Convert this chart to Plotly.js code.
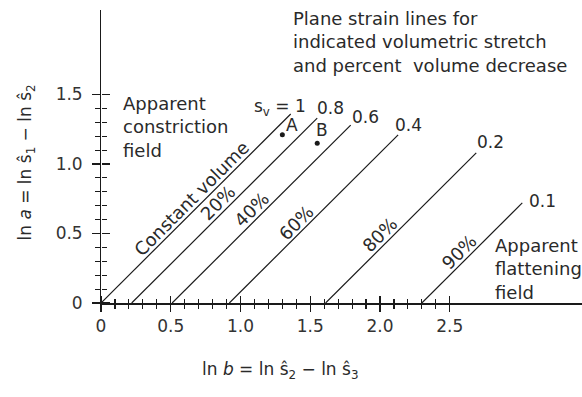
<!DOCTYPE html>
<html>
<head>
<meta charset="utf-8">
<script src="https://cdn.plot.ly/plotly-3.0.1.min.js"></script>
<style>html,body{margin:0;padding:0;background:#fff;}#chart{width:582px;height:397px;}</style>
</head>
<body>
<div id="chart"></div>
<script>
// ---- data ----
var svLabels   = ["s<sub>v</sub> = 1", "0.8", "0.6", "0.4", "0.2", "0.1"];
var pctLabels  = ["Constant volume", "20%", "40%", "60%", "80%", "90%"];
var lineStartX = [0, 0.22, 0.51, 0.92, 1.61, 2.30];
var lineEndX   = [1.36, 1.55, 1.79, 2.13, 2.69, 3.02];
var lineEndY   = [1.36, 1.33, 1.28, 1.21, 1.08, 0.72];
var pctAlongY  = [0.70, 0.67, 0.62, 0.53, 0.44, 0.32];
var pointNames = ["A", "B"];
var pointX     = [1.30, 1.55];
var pointY     = [1.21, 1.15];
var xTickVals  = [0, 0.5, 1.0, 1.5, 2.0, 2.5];
var xTickText  = ["0", "0.5", "1.0", "1.5", "2.0", "2.5"];
var yTickVals  = [0, 0.5, 1.0, 1.5];
var yTickText  = ["0\u00a0", "0.5\u00a0", "1.0\u00a0", "1.5\u00a0"];
var xMinorVals = [0.1,0.2,0.3,0.4,0.6,0.7,0.8,0.9,1.1,1.2,1.3,1.4,1.6,1.7,1.8,1.9,2.1,2.2,2.3,2.4];
var yMinorVals = [0.1,0.2,0.3,0.4,0.6,0.7,0.8,0.9,1.1,1.2,1.3,1.4];

// ---- styles ----
var FONT = "DejaVu Sans, Liberation Sans, Arial, sans-serif";
var INK = "#1a1a1a";
var TXT = "#2a2a2a";
var svShift = [[-11, 6], [13, 10], [15, 8], [10, 10], [14, 11], [20, 2]];
var ptShift = [[10, 10], [5, 13]];
var XR = [0, 3.448], YR = [0, 2.108];

var traces = [];
for (var i = 0; i < lineStartX.length; i++) {
  traces.push({
    type: "scatter", mode: "lines",
    x: [lineStartX[i], lineEndX[i]], y: [0, lineEndY[i]],
    line: {color: INK, width: 1.2}, hoverinfo: "skip", showlegend: false
  });
}
traces.push({
  type: "scatter", mode: "markers", x: pointX, y: pointY,
  marker: {color: INK, size: 5}, hoverinfo: "skip", showlegend: false
});
// invisible trace that keeps the second axis pair (inner half of the crossing ticks)
traces.push({type: "scatter", mode: "markers", x: [0], y: [0], xaxis: "x2", yaxis: "y2",
  marker: {opacity: 0}, hoverinfo: "skip", showlegend: false});

var ann = [];
for (var i = 0; i < svLabels.length; i++) {
  ann.push({x: lineEndX[i], y: lineEndY[i], xref: "x", yref: "y", text: svLabels[i],
    showarrow: false, xanchor: "center", yanchor: "middle",
    xshift: svShift[i][0], yshift: svShift[i][1],
    font: {family: FONT, size: 17, color: TXT}});
}
for (var i = 0; i < pctLabels.length; i++) {
  var t = pctAlongY[i] / lineEndY[i];
  var px = lineStartX[i] + (lineEndX[i] - lineStartX[i]) * t;
  ann.push({x: px, y: pctAlongY[i], xref: "x", yref: "y", text: pctLabels[i],
    showarrow: false, xanchor: "center", yanchor: "middle", textangle: -45,
    xshift: -7, yshift: 7,
    font: {family: FONT, size: 18, color: TXT}});
}
for (var i = 0; i < pointNames.length; i++) {
  ann.push({x: pointX[i], y: pointY[i], xref: "x", yref: "y", text: pointNames[i],
    showarrow: false, xanchor: "center", yanchor: "middle",
    xshift: ptShift[i][0], yshift: ptShift[i][1],
    font: {family: FONT, size: 17, color: TXT}});
}
ann.push({x: 0.143, y: 1.525, xref: "x", yref: "y", xanchor: "left", yanchor: "top", align: "left",
  text: "Apparent<br>constriction<br>field", showarrow: false,
  font: {family: FONT, size: 18, color: TXT}});
ann.push({x: 2.81, y: 0.504, xref: "x", yref: "y", xanchor: "left", yanchor: "top", align: "left",
  text: "Apparent<br>flattening<br>field", showarrow: false,
  font: {family: FONT, size: 18, color: TXT}});
ann.push({x: 0.395, y: 1.014, xref: "paper", yref: "paper", xanchor: "left", yanchor: "top", align: "left",
  text: "Plane strain lines for<br>indicated volumetric stretch<br>and percent  volume decrease",
  showarrow: false, font: {family: FONT, size: 18, color: TXT}});
// axis titles
ann.push({x: 0.372, y: -0.229, xref: "paper", yref: "paper", xanchor: "center", yanchor: "middle",
  text: "ln <i>b</i> = ln ŝ<sub>2</sub> − ln ŝ<sub>3</sub>", showarrow: false,
  font: {family: FONT, size: 17, color: TXT}});
ann.push({x: -0.155, y: 0.481, xref: "paper", yref: "paper", xanchor: "center", yanchor: "middle",
  textangle: -90, text: "ln <i>a</i> = ln ŝ<sub>1</sub> − ln ŝ<sub>2</sub>", showarrow: false,
  font: {family: FONT, size: 17, color: TXT}});

var axBase = {showgrid: false, zeroline: false, fixedrange: true};
var layout = {
  width: 582, height: 397,
  margin: {l: 101, r: 0, t: 10, b: 94, pad: 0},
  paper_bgcolor: "#fff", plot_bgcolor: "#fff",
  showlegend: false,
  xaxis: Object.assign({}, axBase, {
    range: XR, showline: true, linecolor: INK, linewidth: 1.5,
    tickmode: "array", tickvals: xTickVals, ticktext: xTickText,
    ticks: "outside", ticklen: 7, tickwidth: 1.3, tickcolor: INK,
    tickfont: {family: FONT, size: 17, color: "#333"},
    minor: {tickmode: "array", tickvals: xMinorVals, ticks: "outside", ticklen: 4, tickwidth: 1.1, tickcolor: INK, showgrid: false}
  }),
  yaxis: Object.assign({}, axBase, {
    range: YR, showline: true, linecolor: INK, linewidth: 1.5,
    tickmode: "array", tickvals: yTickVals, ticktext: yTickText,
    ticks: "outside", ticklen: 8, tickwidth: 1.3, tickcolor: INK,
    tickfont: {family: FONT, size: 17, color: "#333"},
    minor: {tickmode: "array", tickvals: yMinorVals, ticks: "outside", ticklen: 5, tickwidth: 1.1, tickcolor: INK, showgrid: false}
  }),
  // opposite-side axes sitting on the same lines: their outside ticks point into the plot
  xaxis2: Object.assign({}, axBase, {
    range: XR, overlaying: "x", side: "top", anchor: "free", position: 0,
    showline: false, showticklabels: false,
    tickmode: "array", tickvals: xTickVals,
    ticks: "outside", ticklen: 7, tickwidth: 1.3, tickcolor: INK,
    minor: {tickmode: "array", tickvals: xMinorVals, ticks: "outside", ticklen: 4, tickwidth: 1.1, tickcolor: INK, showgrid: false}
  }),
  yaxis2: Object.assign({}, axBase, {
    range: YR, overlaying: "y", side: "right", anchor: "free", position: 0,
    showline: false, showticklabels: false,
    tickmode: "array", tickvals: yTickVals,
    ticks: "outside", ticklen: 8, tickwidth: 1.3, tickcolor: INK,
    minor: {tickmode: "array", tickvals: yMinorVals, ticks: "outside", ticklen: 5, tickwidth: 1.1, tickcolor: INK, showgrid: false}
  }),
  annotations: ann
};
Plotly.newPlot("chart", traces, layout, {staticPlot: true, displayModeBar: false});
</script>
</body>
</html>
